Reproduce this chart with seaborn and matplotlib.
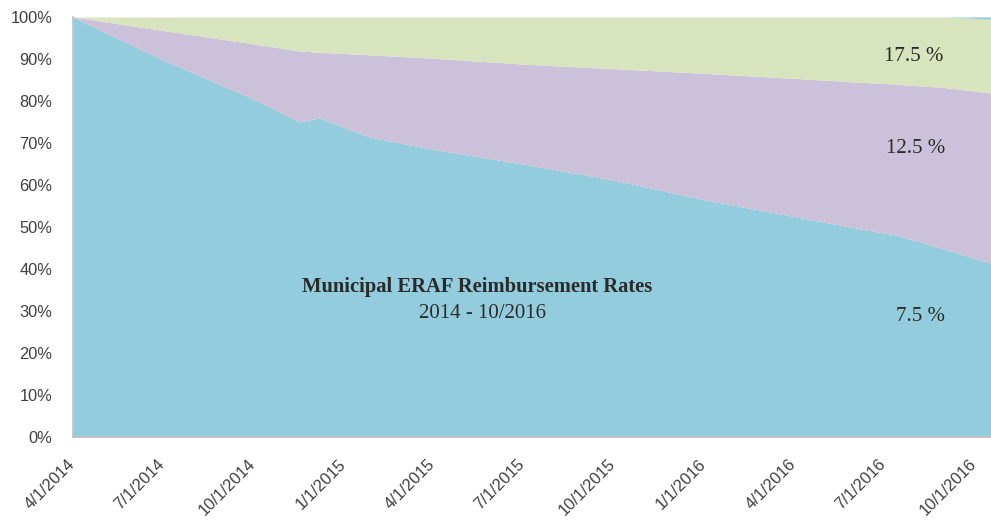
import pandas as pd
import numpy as np
import matplotlib
matplotlib.use("Agg")
import matplotlib.pyplot as plt
import matplotlib.transforms as mtransforms
from matplotlib.ticker import PercentFormatter
import seaborn as sns

# share of reimbursements at each rate (percent of total)
dates = ["2014-04-01", "2014-07-01", "2014-10-01", "2014-11-17", "2014-12-07",
         "2015-01-27", "2015-04-01", "2015-07-01", "2015-10-01", "2016-01-01",
         "2016-04-01", "2016-05-28", "2016-07-15", "2016-09-01", "2016-10-18"]
rate_7_5 = [100, 89.8, 80.5, 75.0, 76.0, 71.4, 68.5, 65.0, 61.2, 56.5, 52.5, 50.0, 48.0, 44.7, 41.4]
rate_12_5 = [0, 7.0, 13.1, 16.9, 15.6, 19.6, 21.7, 23.8, 26.5, 30.1, 32.9, 34.6, 36.0, 38.5, 40.5]
rate_17_5 = [0, 3.2, 6.4, 8.1, 8.4, 9.0, 9.8, 11.2, 12.3, 13.4, 14.6, 15.4, 16.0, 16.8, 17.6]
rate_other = [0, 0, 0, 0, 0, 0, 0, 0, 0, 0, 0, 0, 0, 0, 0.5]

tick_dates = ["2014-04-01", "2014-07-01", "2014-10-01", "2015-01-01", "2015-04-01",
              "2015-07-01", "2015-10-01", "2016-01-01", "2016-04-01", "2016-07-01",
              "2016-10-01"]

df = pd.DataFrame({
    "date": pd.to_datetime(dates),
    "7.5 %": rate_7_5,
    "12.5 %": rate_12_5,
    "17.5 %": rate_17_5,
    "other": rate_other,
})

sns.set_style("white")
plt.rcParams["font.family"] = ["Liberation Sans", "DejaVu Sans"]

colors = ["#93CDDD", "#CCC1DA", "#D7E4BD", "#8CC6DC"]

fig = plt.figure(figsize=(9.91, 5.25), dpi=100)
ax = fig.add_axes([73 / 991, 88 / 525, 918 / 991, 420 / 525])

ax.stackplot(df["date"], df["7.5 %"], df["12.5 %"], df["17.5 %"], df["other"],
             colors=colors, linewidth=0)

ax.set_ylim(0, 100)
ax.set_xlim(df["date"].iloc[0], df["date"].iloc[-1])
ax.set_yticks(np.arange(0, 101, 10))
ax.yaxis.set_major_formatter(PercentFormatter(decimals=0))

ticks = pd.to_datetime(tick_dates)
ax.set_xticks(ticks)
ax.set_xticklabels([f"{d.month}/{d.day}/{d.year}" for d in ticks],
                   rotation=45, ha="right", va="top", rotation_mode="anchor")

sns.despine(ax=ax, top=True, right=True)
for side in ["left", "bottom"]:
    ax.spines[side].set_color("#BFBFBF")
    ax.spines[side].set_linewidth(1.2)
ax.tick_params(axis="both", which="major", direction="out", length=5, width=1,
               color="#BFBFBF", labelsize=11.8, labelcolor="#404040")
ax.tick_params(axis="y", pad=10)
ax.tick_params(axis="x", pad=9, labelsize=11.8)

# nudge rotated date labels a bit left, like the original
shift = mtransforms.ScaledTranslation(-4 / 72, 0, fig.dpi_scale_trans)
for lbl in ax.get_xticklabels():
    lbl.set_transform(lbl.get_transform() + shift)

serif = ["Liberation Serif", "DejaVu Serif"]
ax.text(0.440, 0.357, "Municipal ERAF Reimbursement Rates", transform=ax.transAxes,
        ha="center", va="center", fontsize=14.8, fontweight="bold",
        color="#2a2a2a", family=serif)
ax.text(0.446, 0.295, "2014 - 10/2016", transform=ax.transAxes,
        ha="center", va="center", fontsize=15, color="#2a2a2a", family=serif)

ax.text(0.948, 0.905, "17.5 %", transform=ax.transAxes, ha="right", va="center",
        fontsize=15, color="#2a2a2a", family=serif)
ax.text(0.950, 0.688, "12.5 %", transform=ax.transAxes, ha="right", va="center",
        fontsize=15, color="#2a2a2a", family=serif)
ax.text(0.950, 0.288, "7.5 %", transform=ax.transAxes, ha="right", va="center",
        fontsize=15, color="#2a2a2a", family=serif)

fig.savefig("out.png", dpi=100)
